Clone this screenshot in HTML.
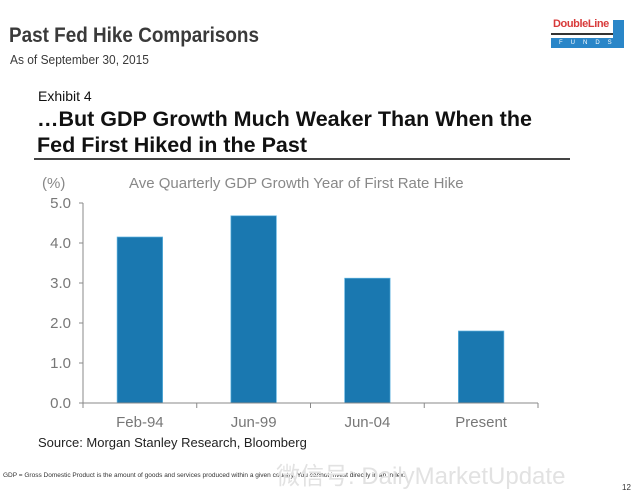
<!DOCTYPE html>
<html><head><meta charset="utf-8">
<style>
body{margin:0;width:640px;height:502px;background:#fff;overflow:hidden;position:relative;font-family:"Liberation Sans",sans-serif}
.abs{position:absolute;white-space:nowrap}
</style></head><body>
<div class="abs" style="left:9px;top:24px;font-size:21px;font-weight:bold;color:#3a3a3a;transform:scaleX(0.9);transform-origin:0 0">Past Fed Hike Comparisons</div>
<div class="abs" style="left:10px;top:52px;font-size:13px;color:#3a3a3a;transform:scaleX(0.92);transform-origin:0 0">As of September 30, 2015</div>
<div class="abs" style="left:551px;top:17px;width:76px;height:34px">
  <div class="abs" style="left:2px;top:1px;font-size:11px;font-weight:bold;color:#d83a3a;letter-spacing:-0.4px">DoubleLine</div>
  <div class="abs" style="left:0;top:16px;width:72px;height:2px;background:#333"></div>
  <div class="abs" style="left:0;top:21px;width:64px;height:10px;background:#2a86c8;color:#fff;font-size:6px;line-height:10px;letter-spacing:8px;text-indent:8px">FUNDS</div>
  <div class="abs" style="left:62px;top:3px;width:11px;height:28px;background:#2a86c8"></div>
</div>
<div class="abs" style="left:38px;top:88px;font-size:14px;color:#111">Exhibit 4</div>
<div class="abs" style="left:37px;top:106px;font-size:21.5px;font-weight:bold;color:#111;line-height:26px">…But GDP Growth Much Weaker Than When the<br>Fed First Hiked in the Past</div>
<div class="abs" style="left:34px;top:158px;width:536px;height:2px;background:#444"></div>
<svg class="abs" style="left:0;top:0" width="640" height="502" id="chart">
<text x="42" y="188" font-size="15" fill="#888">(%)</text>
<text x="129" y="188" font-size="15" fill="#888">Ave Quarterly GDP Growth Year of First Rate Hike</text>
</svg>
<div class="abs" style="left:38px;top:435px;font-size:13px;color:#222">Source: Morgan Stanley Research, Bloomberg</div>
<div class="abs" style="left:3px;top:472px;font-size:6.5px;color:#333">GDP = Gross Domestic Product is the amount of goods and services produced within a given country. You cannot invest directly in an index.</div>
<div class="abs" style="left:276px;top:456px;font-size:24px;color:#e2e2e2;font-family:'Liberation Sans','Noto Sans CJK SC',sans-serif">微信号: DailyMarketUpdate</div>
<div class="abs" style="left:622px;top:483px;font-size:8px;color:#333">12</div>
<script>
const categories=["Feb-94","Jun-99","Jun-04","Present"];
const values=[4.15,4.68,3.12,1.8];
const yTicks=[0,1,2,3,4,5];
const yTickLabels=["0.0","1.0","2.0","3.0","4.0","5.0"];
const svg=document.getElementById('chart');
const NS='http://www.w3.org/2000/svg';
const x0=83,x1=538,yBase=403,yTop=203,yMax=5;
const y=v=>yBase-(v/yMax)*(yBase-yTop);
const bw=(x1-x0)/categories.length;
function mk(t,a){const e=document.createElementNS(NS,t);for(const k in a)e.setAttribute(k,a[k]);svg.appendChild(e);return e;}
values.forEach((v,i)=>{
  const r=mk('rect',{x:x0+bw*i+bw*0.3,y:y(v),width:bw*0.4,height:yBase-y(v),fill:'#1a78b0',stroke:'#5fb3e0','stroke-width':0.7});
  
  
  const t=mk('text',{x:x0+bw*(i+0.5),y:yBase+24,'font-size':15,fill:'#777','text-anchor':'middle'});
  t.textContent=categories[i];
  
  
});
const ya=mk('line',{x1:x0,y1:yTop,x2:x0,y2:yBase,stroke:'#888','stroke-width':1});


const xa=mk('line',{x1:x0,y1:yBase,x2:x1,y2:yBase,stroke:'#888','stroke-width':1});


yTicks.forEach((v,i)=>{
  mk('line',{x1:x0-4,y1:y(v),x2:x0,y2:y(v),stroke:'#888'});
  const t=mk('text',{x:x0-12,y:y(v)+5,'font-size':15,fill:'#777','text-anchor':'end'});
  t.textContent=yTickLabels[i];
  
  
});
for(let i=0;i<=categories.length;i++){mk('line',{x1:x0+bw*i,y1:yBase,x2:x0+bw*i,y2:yBase+5,stroke:'#888'});}
</script>
</body></html>
